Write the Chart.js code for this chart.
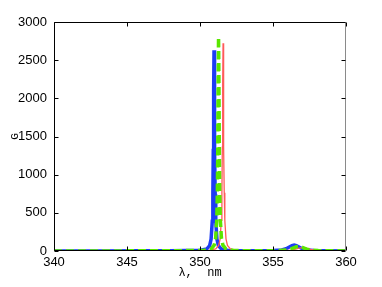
<!DOCTYPE html>
<html><head><meta charset="utf-8">
<script src="https://cdn.jsdelivr.net/npm/chart.js@4"></script>
<style>html,body{margin:0;padding:0;background:#fff;}canvas{display:block;}</style>
</head><body>
<canvas id="c" width="382" height="287"></canvas>
<script>
const xTicks = [340, 345, 350, 355, 360];
const yTicks = [0, 500, 1000, 1500, 2000, 2500, 3000];

const blueX = [340, 343, 346, 348, 349, 349.96, 350.46, 350.66, 350.76, 350.84, 350.88, 350.91, 350.935, 350.96, 350.985, 351.01, 351.04, 351.08, 351.16, 351.26, 351.46, 351.96, 352.96, 354, 355, 355.6, 355.9, 356.15, 356.3, 356.45, 356.6, 356.75, 357.0, 357.3, 357.8, 358.5, 360];
const blueY = [0.5, 1, 2, 3, 5, 7, 26, 71, 155, 389, 739, 1315, 2104, 2630, 2104, 1315, 739, 389, 155, 71, 26, 7, 3, 3, 6, 14, 30, 55, 70, 78, 70, 55, 30, 14, 6, 3, 1];

const greenX = [340, 343, 346, 348, 349, 350.27, 350.77, 350.97, 351.07, 351.15, 351.19, 351.22, 351.245, 351.27, 351.295, 351.32, 351.35, 351.39, 351.47, 351.57, 351.77, 352.27, 353.27, 354.3, 355.2, 355.9, 356.2, 356.45, 356.6, 356.75, 356.9, 357.05, 357.3, 357.6, 358.1, 358.8, 360];
const greenY = [0.5, 1, 2, 3, 5, 7, 28, 76, 165, 414, 787, 1400, 2240, 2800, 2240, 1400, 787, 414, 165, 76, 28, 7, 3, 3, 5, 12, 25, 45, 55, 60, 55, 45, 25, 12, 5, 3, 1];

const redX = [340, 343, 346, 348, 349.5, 350.58, 351.08, 351.28, 351.38, 351.46, 351.5, 351.53, 351.555, 351.58, 351.605, 351.63, 351.66, 351.7, 351.78, 351.88, 352.08, 352.58, 353.58, 354.6, 355.6, 356.2, 356.5, 356.75, 356.9, 357.05, 357.2, 357.35, 357.6, 357.9, 358.4, 359, 360];
const redY = [0.5, 1, 2, 3, 4, 7, 27, 74, 160, 402, 764, 1360, 2176, 2720, 2176, 1360, 764, 402, 160, 74, 27, 7, 3, 3, 5, 10, 20, 35, 42, 45, 42, 35, 20, 10, 5, 3, 1];

const pts = (xs, ys) => xs.map((x, i) => ({x: x, y: ys[i]}));

const frame = {
  id: 'frame',
  afterDatasetsDraw(chart) {
    const {ctx, chartArea: a, scales: {x, y}} = chart;
    ctx.save();
    ctx.lineWidth = 1;
    ctx.strokeStyle = '#000';
    const L = Math.round(a.left) + 0.5, R = Math.round(a.right) - 0.5;
    const T = Math.round(a.top) + 0.5, B = Math.round(a.bottom) - 0.5;
    ctx.beginPath();
    ctx.moveTo(L, T); ctx.lineTo(R, T);
    ctx.moveTo(L, T); ctx.lineTo(L, B); ctx.lineTo(R, B);
    ctx.stroke();
    ctx.strokeStyle = '#8a8a8a';
    ctx.beginPath(); ctx.moveTo(R, T); ctx.lineTo(R, B); ctx.stroke();
    ctx.strokeStyle = '#000';
    ctx.beginPath();
    xTicks.forEach(v => {
      const p = Math.round(x.getPixelForValue(v)) + 0.5;
      ctx.moveTo(p, B); ctx.lineTo(p, B - 4);
      ctx.moveTo(p, T); ctx.lineTo(p, T + 4);
    });
    yTicks.forEach(v => {
      const p = Math.round(y.getPixelForValue(v)) + 0.5;
      ctx.moveTo(L, p); ctx.lineTo(L + 4, p);
      ctx.moveTo(R, p); ctx.lineTo(R - 4, p);
    });
    ctx.stroke();
    ctx.restore();
  }
};

new Chart(document.getElementById('c'), {
  type: 'line',
  data: {
    datasets: [
      {data: pts(greenX, greenY), borderColor: 'rgb(90,230,0)', borderWidth: 3.5, borderDash: [8, 4], pointRadius: 0, tension: 0, order: 0},
      {data: pts(redX, redY), borderColor: 'rgb(255,90,90)', borderWidth: 1.3, pointRadius: 0, tension: 0, order: 1},
      {data: pts(blueX, blueY), borderColor: 'rgb(30,60,245)', borderWidth: 3.5, pointRadius: 0, tension: 0, order: 2}
    ]
  },
  options: {
    responsive: false,
    animation: false,
    events: [],
    layout: {padding: {top: 22, right: 36, left: 0, bottom: 0}},
    plugins: {legend: {display: false}, tooltip: {enabled: false}},
    scales: {
      x: {
        type: 'linear', min: 340, max: 360,
        afterBuildTicks: s => { s.ticks = xTicks.map(v => ({value: v})); },
        afterFit: s => { s.height = 36; },
        grid: {display: false, drawTicks: false},
        border: {display: false},
        ticks: {color: '#000', font: {family: 'Liberation Sans', size: 13}, padding: 4, maxRotation: 0, callback: v => String(v)},
        title: {display: true, text: 'λ,  nm', color: '#000', font: {family: 'Liberation Mono', size: 12}, padding: {top: 0, bottom: 7}}
      },
      y: {
        type: 'linear', min: 0, max: 3000,
        afterBuildTicks: s => { s.ticks = yTicks.map(v => ({value: v})); },
        afterFit: s => { s.width = 54; },
        grid: {display: false, drawTicks: false},
        border: {display: false},
        ticks: {color: '#000', font: {family: 'Liberation Sans', size: 13}, padding: 7, callback: v => String(v)},
        title: {display: true, text: 'G', color: '#000', font: {family: 'Liberation Mono', size: 11}, padding: {top: 8, bottom: 0}}
      }
    }
  },
  plugins: [frame]
});
</script>
</body></html>
